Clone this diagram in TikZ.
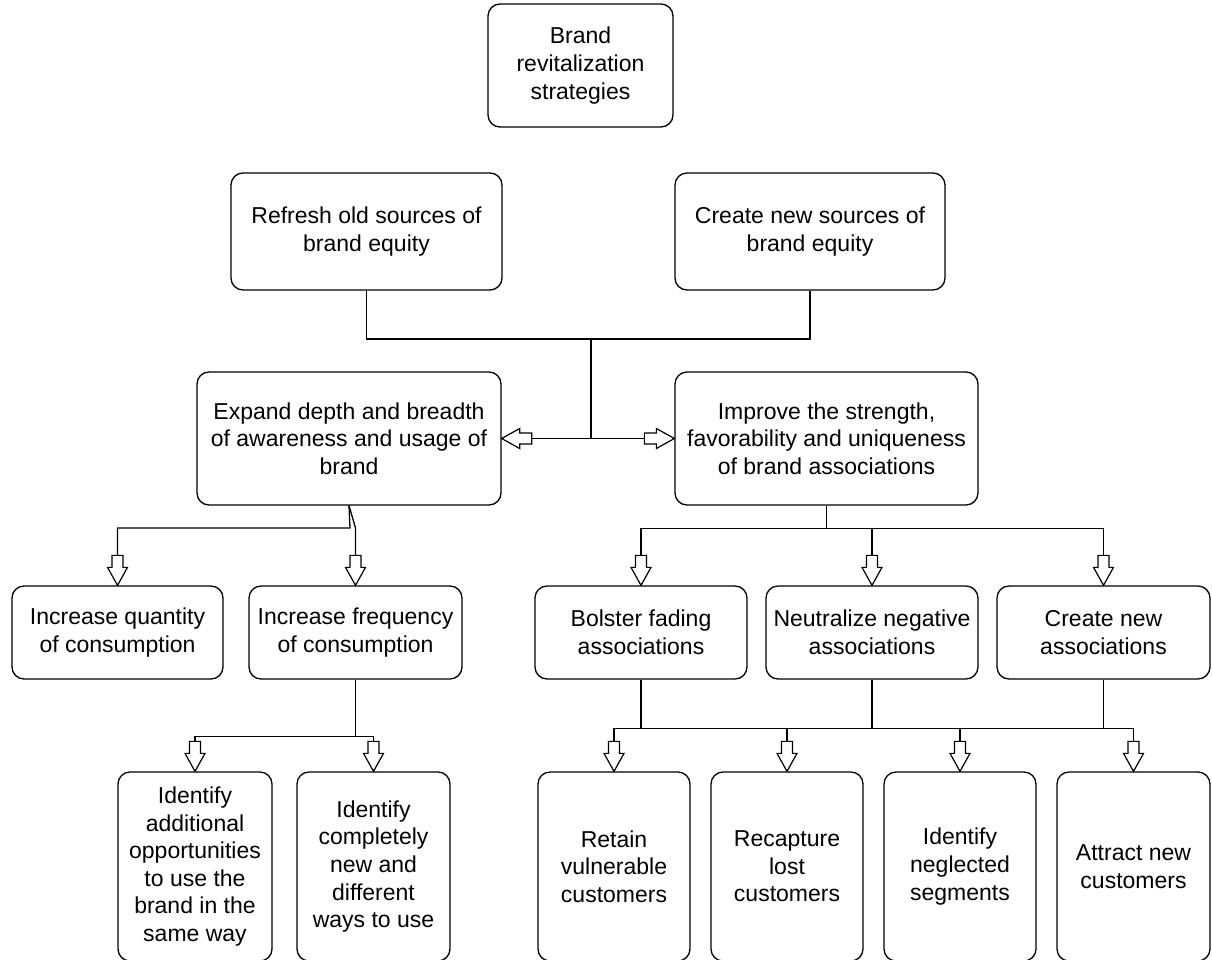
\documentclass[tikz,border=0pt]{standalone}
\usepackage{fontspec}
\setmainfont{Liberation Sans}
\begin{document}
\begin{tikzpicture}[x=1pt,y=-1pt,
  box/.style={draw, line width=1.3pt, rounded corners=12pt, align=center,
    inner sep=0pt, font=\fontsize{23}{27.6}\selectfont},
  link/.style={line width=1.3pt},
  hollowarrow/.pic={
    \draw[line width=1.2pt, fill=white, line join=miter]
      (0pt,0pt) -- (-10pt,18pt) -- (-5.5pt,18pt) -- (-5.5pt,30pt)
      -- (5.5pt,30pt) -- (5.5pt,18pt) -- (10pt,18pt) -- cycle;}]
\useasboundingbox (0,0) rectangle (1212,959);
\clip (0,0) rectangle (1212,959);

% root
\node[box, minimum width=185pt, minimum height=123pt] (root) at (580.5,65.5)
  {Brand\\revitalization\\strategies};

% sources of equity
\node[box, minimum width=271pt, minimum height=117pt] (refresh) at (366.5,231.5)
  {Refresh old sources of\\brand equity};
\node[box, minimum width=270pt, minimum height=117pt] (create) at (810,231.5)
  {Create new sources of\\brand equity};

% two main directions
\node[box, minimum width=304pt, minimum height=133pt] (expand) at (349,438.5)
  {Expand depth and breadth\\of awareness and usage of\\brand};
\node[box, minimum width=303pt, minimum height=133pt] (improve) at (826.5,438.5)
  {Improve the strength,\\favorability and uniqueness\\of brand associations};

% second level
\node[box, minimum width=211pt, minimum height=93pt] (quantity) at (117.5,632.5)
  {Increase quantity\\of consumption};
\node[box, minimum width=213pt, minimum height=93pt] (freq) at (355.5,632.5)
  {Increase frequency\\of consumption};
\node[box, minimum width=212pt, minimum height=93pt] (bolster) at (641,632.5)
  {Bolster fading\\associations};
\node[box, minimum width=212pt, minimum height=93pt] (neutral) at (872,632.5)
  {Neutralize negative\\associations};
\node[box, minimum width=213pt, minimum height=93pt] (cassoc) at (1103.5,632.5)
  {Create new\\associations};

% third level
\node[box, minimum width=154pt, minimum height=189pt] (addl) at (195,866.5)
  {Identify\\additional\\opportunities\\to use the\\brand in the\\same way};
\node[box, minimum width=153pt, minimum height=189pt] (newways) at (373.5,866.5)
  {Identify\\completely\\new and\\different\\ways to use};
\node[box, minimum width=152pt, minimum height=189pt] (retain) at (614,866.5)
  {Retain\\vulnerable\\customers};
\node[box, minimum width=152pt, minimum height=189pt] (recap) at (787,866.5)
  {Recapture\\lost\\customers};
\node[box, minimum width=152pt, minimum height=189pt] (neglect) at (960,866.5)
  {Identify\\neglected\\segments};
\node[box, minimum width=153pt, minimum height=189pt] (attract) at (1133.5,866.5)
  {Attract new\\customers};

% sources -> main directions
\coordinate (hub) at (591,339);
\draw[link] (refresh.south) |- (hub) -| (create.south);
\draw[link] (hub) -- (hub |- expand.east);
\draw[link] ([xshift=27pt]expand.east) -- ([xshift=-27pt]improve.west);
\pic[rotate=-90] at (expand.east) {hollowarrow};
\pic[rotate=90] at (improve.west) {hollowarrow};

% expand -> quantity / frequency
\draw[link] (expand.south) -- (350,528) -| ([yshift=30pt]quantity.north);
\draw[link] (expand.south) -- (355.5,528) -- ([yshift=30pt]freq.north);
\pic at (quantity.north) {hollowarrow};
\pic at (freq.north) {hollowarrow};

% improve -> association strategies
\path (improve.south) ++(0,23) coordinate (ij);
\draw[link] (improve.south) -- (ij);
\draw[link] ([yshift=30pt]bolster.north) |- (ij) -| ([yshift=30pt]cassoc.north);
\draw[link] (neutral.north |- ij) -- ([yshift=30pt]neutral.north);
\pic at (bolster.north) {hollowarrow};
\pic at (neutral.north) {hollowarrow};
\pic at (cassoc.north) {hollowarrow};

% frequency -> usage opportunities
\path (freq.south) ++(0,57) coordinate (fj);
\draw[link] (freq.south) -- (fj);
\draw[link] ([yshift=30pt]addl.north) |- (fj) -| ([yshift=30pt]newways.north);
\pic at (addl.north) {hollowarrow};
\pic at (newways.north) {hollowarrow};

% association strategies -> customer targets
\path (bolster.south) ++(0,49) coordinate (bj);
\draw[link] (bolster.south) -- (bj);
\draw[link] (neutral.south) -- (neutral.south |- bj);
\draw[link] (cassoc.south) -- (cassoc.south |- bj);
\draw[link] ([yshift=30pt]retain.north) |- (bj) -| ([yshift=30pt]attract.north);
\draw[link] (recap.north |- bj) -- ([yshift=30pt]recap.north);
\draw[link] (neglect.north |- bj) -- ([yshift=30pt]neglect.north);
\pic at (retain.north) {hollowarrow};
\pic at (recap.north) {hollowarrow};
\pic at (neglect.north) {hollowarrow};
\pic at (attract.north) {hollowarrow};
\end{tikzpicture}
\end{document}
